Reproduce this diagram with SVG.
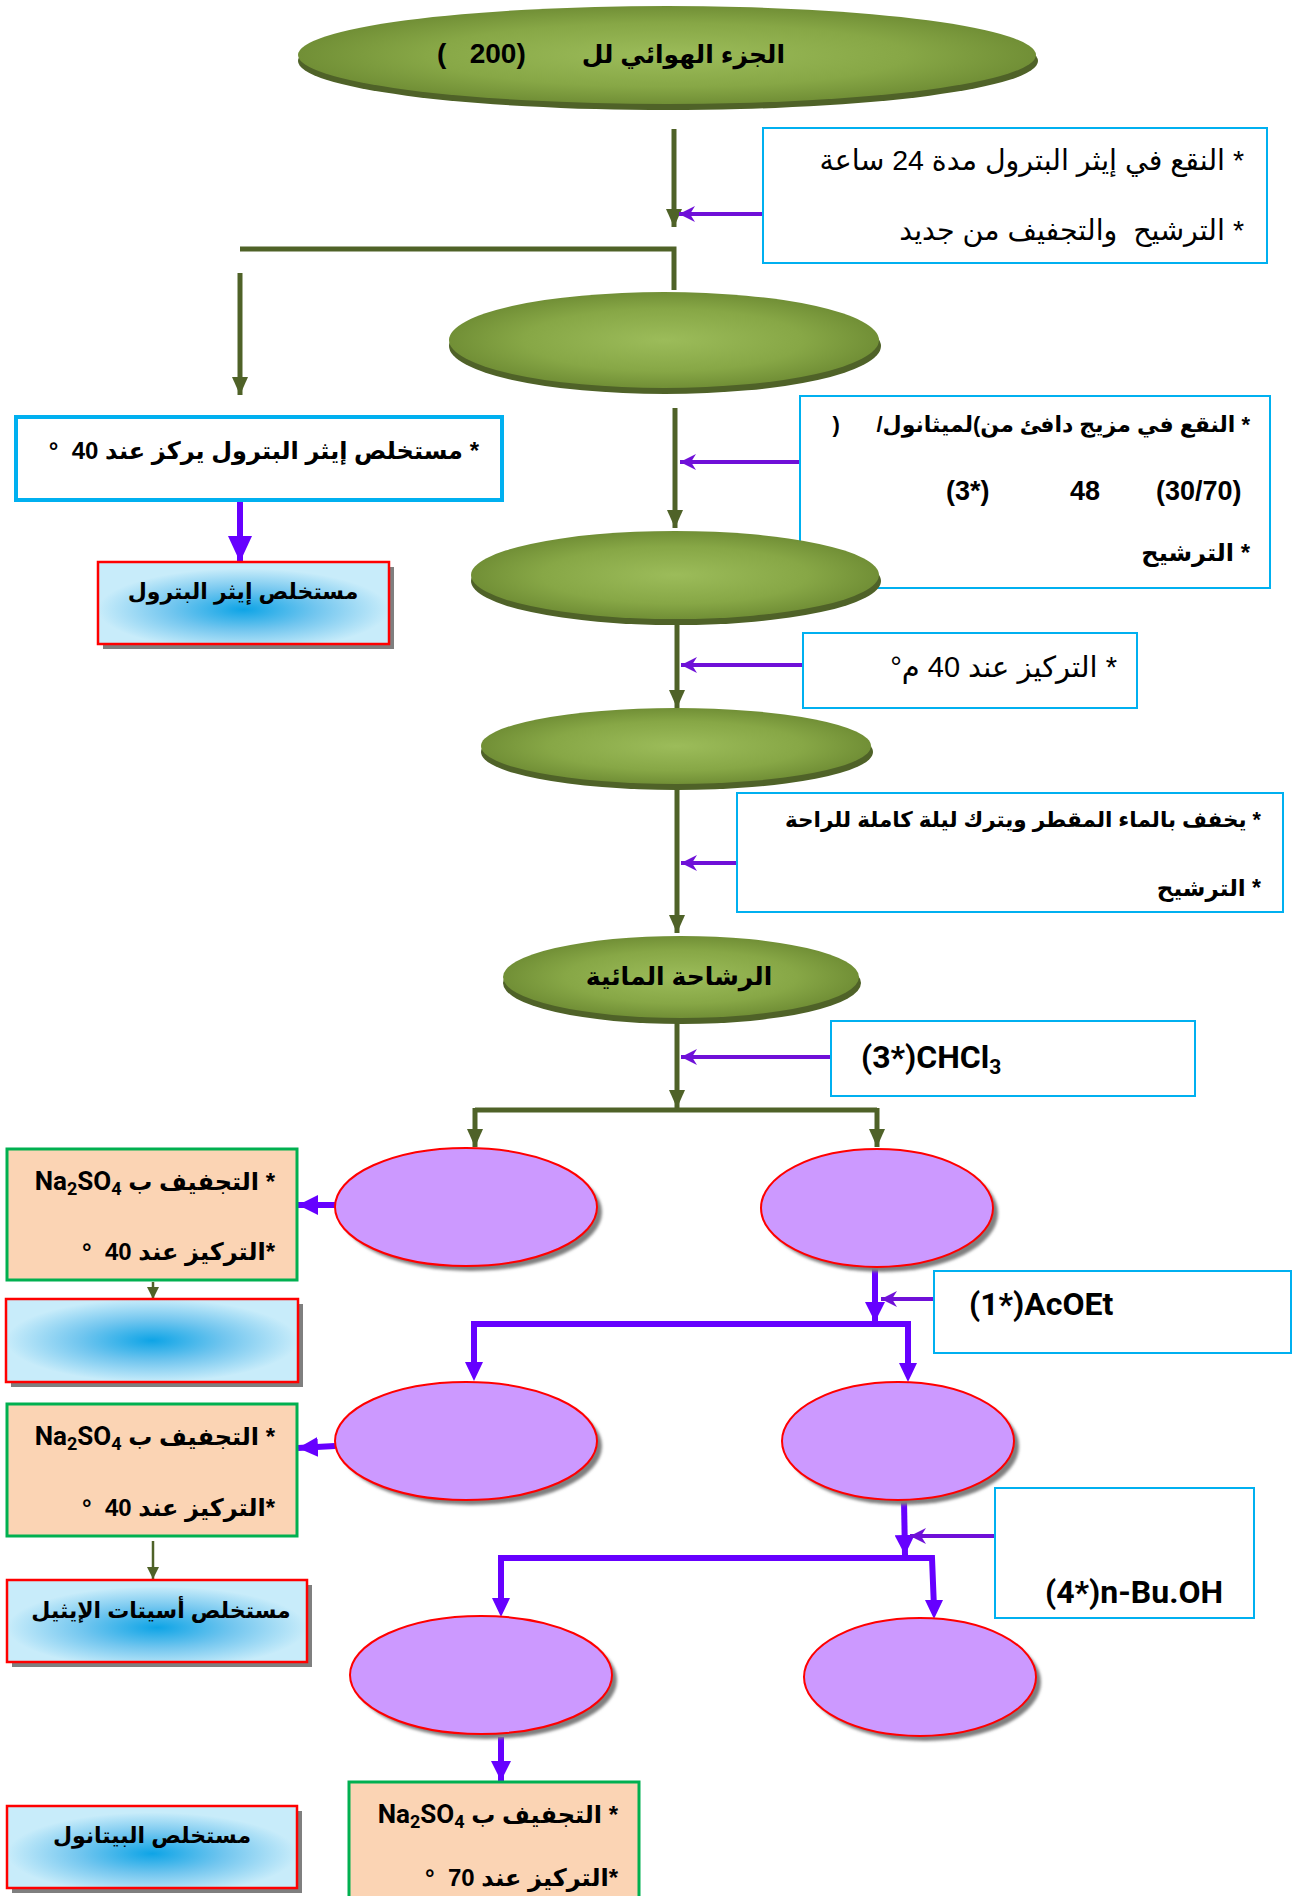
<svg xmlns="http://www.w3.org/2000/svg" width="1292" height="1896" viewBox="0 0 1292 1896">
<style>
.ar{font-family:"Liberation Sans","DejaVu Sans",sans-serif;direction:rtl;fill:#000}
.b{font-weight:bold}
.lat{font-family:Roboto,"Liberation Sans",sans-serif;font-weight:bold;fill:#000}
.num{font-family:"Liberation Sans",sans-serif;font-weight:bold;fill:#000}
.cy{fill:#fff;stroke:#00b0f0;stroke-width:2}
.pe{fill:#fbd4b4;stroke:#00b050;stroke-width:3}
.bl{stroke:#ff0000;stroke-width:2.5}
.sh{fill:#7f7f7f}
.pu{fill:#cc99ff;stroke:#ff0000;stroke-width:2}
.gl{stroke:#4f6228;stroke-width:5;fill:none}
.gt{stroke:#4f6228;stroke-width:2.5;fill:none}
.pt{stroke:#6f10d8;stroke-width:4;fill:none}
.pk{stroke:#6600ff;stroke-width:6;fill:none}
</style>
<defs>
<radialGradient id="gg" cx="50%" cy="50%" r="50%">
<stop offset="0" stop-color="#9cbc5a"/>
<stop offset="0.65" stop-color="#87a746"/>
<stop offset="1" stop-color="#718f36"/>
</radialGradient>
<radialGradient id="bg" cx="50%" cy="58%" r="50%">
<stop offset="0" stop-color="#0ea4e6"/>
<stop offset="0.5" stop-color="#72c6ef"/>
<stop offset="1" stop-color="#c8ecfa"/>
</radialGradient>
<radialGradient id="bg2" cx="50%" cy="50%" r="50%">
<stop offset="0" stop-color="#0ea4e6"/>
<stop offset="0.5" stop-color="#72c6ef"/>
<stop offset="1" stop-color="#c8ecfa"/>
</radialGradient>
<filter id="blur" x="-10%" y="-10%" width="120%" height="120%"><feGaussianBlur stdDeviation="1.5"/></filter>
<marker id="ga" markerUnits="userSpaceOnUse" markerWidth="18" markerHeight="16" refX="18" refY="8" orient="auto"><path d="M0,0 L18,8 L0,16 z" fill="#4f6228"/></marker>
<marker id="gs" markerUnits="userSpaceOnUse" markerWidth="12" markerHeight="12" refX="12" refY="6" orient="auto"><path d="M0,0 L12,6 L0,12 z" fill="#4f6228"/></marker>
<marker id="pa" markerUnits="userSpaceOnUse" markerWidth="16" markerHeight="16" refX="16" refY="8" orient="auto"><path d="M0,0 L16,8 L0,16 L5,8 z" fill="#6f10d8"/></marker>
<marker id="pk" markerUnits="userSpaceOnUse" markerWidth="20" markerHeight="20" refX="20" refY="10" orient="auto"><path d="M0,0 L20,10 L0,20 z" fill="#6600ff"/></marker>
<marker id="pk2" markerUnits="userSpaceOnUse" markerWidth="26" markerHeight="24" refX="26" refY="12" orient="auto"><path d="M0,0 L26,12 L0,24 z" fill="#6600ff"/></marker>
</defs>
<rect width="1292" height="1896" fill="#fff"/>

<g id="connectors">
<line class="gl" x1="674" y1="129" x2="674" y2="227" marker-end="url(#ga)"/>
<line class="pt" x1="763" y1="214" x2="679" y2="214" marker-end="url(#pa)"/>
<polyline class="gl" points="240,249 674,249 674,290"/>
<line class="gl" x1="240" y1="273" x2="240" y2="395" marker-end="url(#ga)"/>
<line class="pk" x1="240" y1="501" x2="240" y2="562" marker-end="url(#pk2)"/>
<line class="gl" x1="675" y1="408" x2="675" y2="528" marker-end="url(#ga)"/>
<line class="pt" x1="800" y1="462" x2="680" y2="462" marker-end="url(#pa)"/>
<line class="gl" x1="677" y1="624" x2="677" y2="708" marker-end="url(#ga)"/>
<line class="pt" x1="803" y1="665" x2="681" y2="665" marker-end="url(#pa)"/>
<line class="gl" x1="677" y1="790" x2="677" y2="933" marker-end="url(#ga)"/>
<line class="pt" x1="737" y1="863" x2="681" y2="863" marker-end="url(#pa)"/>
<line class="gl" x1="677" y1="1023" x2="677" y2="1108" marker-end="url(#ga)"/>
<line class="pt" x1="831" y1="1057" x2="681" y2="1057" marker-end="url(#pa)"/>
<polyline class="gl" points="475,1110 877,1110"/>
<line class="gl" x1="475" y1="1108" x2="475" y2="1147" marker-end="url(#ga)"/>
<line class="gl" x1="877" y1="1108" x2="877" y2="1147" marker-end="url(#ga)"/>
<line class="pk" x1="335" y1="1205" x2="298" y2="1205" marker-end="url(#pk)"/>
<line class="gt" x1="153" y1="1282" x2="153" y2="1299" marker-end="url(#gs)"/>
<line class="pk" x1="875" y1="1266" x2="875" y2="1322" marker-end="url(#pk)"/>
<line class="pt" x1="934" y1="1299" x2="881" y2="1299" marker-end="url(#pa)"/>
<polyline class="pk" points="474,1370 474,1324 908,1324 908,1372"/>
<path d="M465,1362 L483,1362 L474,1381 z M899,1363 L917,1363 L908,1382 z" fill="#6600ff"/>
<line class="pk" x1="335" y1="1446" x2="298" y2="1448" marker-end="url(#pk)"/>
<line class="gt" x1="153" y1="1541" x2="153" y2="1579" marker-end="url(#gs)"/>
<line class="pk" x1="904" y1="1500" x2="905" y2="1555" marker-end="url(#pk)"/>
<line class="pt" x1="995" y1="1536" x2="910" y2="1536" marker-end="url(#pa)"/>
<polyline class="pk" points="501,1606 501,1558 932,1558 934,1608"/>
<path d="M492,1598 L510,1598 L501,1617 z M925,1600 L943,1600 L934,1619 z" fill="#6600ff"/>
<line class="pk" x1="501" y1="1737" x2="501" y2="1781" marker-end="url(#pk)"/>
</g>

<g id="n-top">
<ellipse cx="668" cy="61" rx="370" ry="49" fill="#4f6228"/>
<ellipse cx="667" cy="55" rx="369" ry="49" fill="url(#gg)"/>
<text class="ar b" x="785" y="63" font-size="25" text-anchor="start">الجزء الهوائي لل</text>
<text class="num" x="437" y="63" font-size="28" xml:space="preserve">(   200)</text>
</g>

<g id="n-b1">
<rect class="cy" x="763" y="128" width="504" height="135"/>
<text class="ar" x="1244" y="170" font-size="28.5" text-anchor="start">* النقع في إيثر البترول مدة 24 ساعة</text>
<text class="ar" x="1244" y="240" font-size="28.5" text-anchor="start" xml:space="preserve">* الترشيح  والتجفيف من جديد</text>
</g>

<g id="n-e2">
<ellipse cx="665" cy="346" rx="216" ry="48" fill="#4f6228"/>
<ellipse cx="664" cy="340" rx="215" ry="48" fill="url(#gg)"/>
</g>

<g id="n-b2">
<rect x="16" y="417" width="486" height="83" fill="#fff" stroke="#00b0f0" stroke-width="4"/>
<text class="ar b" x="479" y="459" font-size="24" text-anchor="start" xml:space="preserve">* مستخلص إيثر البترول يركز عند 40  °</text>
</g>

<g id="n-b3">
<rect class="sh" x="103" y="567" width="291" height="82"/>
<rect class="bl" x="98" y="562" width="291" height="82" fill="url(#bg)"/>
<text class="ar b" x="243" y="599" font-size="22" text-anchor="middle">مستخلص إيثر البترول</text>
</g>

<g id="n-b4">
<rect class="cy" x="800" y="396" width="470" height="192"/>
<text class="ar b" x="1250" y="432" font-size="22" text-anchor="start" xml:space="preserve">* النقع في مزيج دافئ من&#x2066;(&#x2069;لميثانول/      &#x2066;)&#x2069;</text>
<text class="num" y="500" font-size="27"><tspan x="1156">(30/70)</tspan><tspan x="1070">48</tspan><tspan x="946">(3*)</tspan></text>
<text class="ar b" x="1250" y="561" font-size="24" text-anchor="start">* الترشيح</text>
</g>

<g id="n-e3">
<ellipse cx="676" cy="581" rx="205" ry="44" fill="#4f6228"/>
<ellipse cx="675" cy="575" rx="204" ry="44" fill="url(#gg)"/>
</g>

<g id="n-b5">
<rect class="cy" x="803" y="633" width="334" height="75"/>
<text class="ar" x="1117" y="677" font-size="29" text-anchor="start">* التركيز عند 40 م°</text>
</g>

<g id="n-e4">
<ellipse cx="677" cy="752" rx="196" ry="38" fill="#4f6228"/>
<ellipse cx="676" cy="746" rx="195" ry="38" fill="url(#gg)"/>
</g>

<g id="n-b6">
<rect class="cy" x="737" y="793" width="546" height="119"/>
<text class="ar b" x="1261" y="827" font-size="21.5" text-anchor="start">* يخفف بالماء المقطر ويترك ليلة كاملة للراحة</text>
<text class="ar b" x="1261" y="896" font-size="23" text-anchor="start">* الترشيح</text>
</g>

<g id="n-e5">
<ellipse cx="682" cy="983" rx="179" ry="41" fill="#4f6228"/>
<ellipse cx="681" cy="977" rx="178" ry="41" fill="url(#gg)"/>
<text class="ar b" x="679" y="985" font-size="25" text-anchor="middle">الرشاحة المائية</text>
</g>

<g id="n-b7">
<rect class="cy" x="831" y="1021" width="364" height="75"/>
<text class="lat" x="861" y="1068" font-size="32">(3*)CHCl<tspan font-size="21" baseline-shift="-6">3</tspan></text>
</g>

<g id="n-p1">
<ellipse class="sh" cx="471" cy="1212" rx="131" ry="59" filter="url(#blur)"/>
<ellipse class="pu" cx="466" cy="1207" rx="131" ry="59"/>
</g>
<g id="n-p2">
<ellipse class="sh" cx="882" cy="1213" rx="116" ry="59" filter="url(#blur)"/>
<ellipse class="pu" cx="877" cy="1208" rx="116" ry="59"/>
</g>

<g id="n-g1">
<rect class="pe" x="7" y="1149" width="290" height="131"/>
<text class="ar b" x="275" y="1190" font-size="24" text-anchor="start">* التجفيف ب <tspan class="lat" font-size="26">Na<tspan font-size="18" baseline-shift="-5">2</tspan>SO<tspan font-size="18" baseline-shift="-5">4</tspan></tspan></text>
<text class="ar b" x="275" y="1260" font-size="24" text-anchor="start" xml:space="preserve">*التركيز عند 40  °</text>
</g>

<g id="n-b8">
<rect class="sh" x="11" y="1304" width="292" height="83"/>
<rect class="bl" x="6" y="1299" width="292" height="83" fill="url(#bg2)"/>
</g>

<g id="n-b9">
<rect class="cy" x="934" y="1271" width="357" height="82"/>
<text class="lat" x="969" y="1315" font-size="32">(1*)AcOEt</text>
</g>

<g id="n-p3">
<ellipse class="sh" cx="471" cy="1446" rx="131" ry="59" filter="url(#blur)"/>
<ellipse class="pu" cx="466" cy="1441" rx="131" ry="59"/>
</g>
<g id="n-p4">
<ellipse class="sh" cx="903" cy="1446" rx="116" ry="59" filter="url(#blur)"/>
<ellipse class="pu" cx="898" cy="1441" rx="116" ry="59"/>
</g>

<g id="n-g2">
<rect class="pe" x="7" y="1404" width="290" height="132"/>
<text class="ar b" x="275" y="1445" font-size="24" text-anchor="start">* التجفيف ب <tspan class="lat" font-size="26">Na<tspan font-size="18" baseline-shift="-5">2</tspan>SO<tspan font-size="18" baseline-shift="-5">4</tspan></tspan></text>
<text class="ar b" x="275" y="1516" font-size="24" text-anchor="start" xml:space="preserve">*التركيز عند 40  °</text>
</g>

<g id="n-b10">
<rect class="sh" x="12" y="1585" width="300" height="82"/>
<rect class="bl" x="7" y="1580" width="300" height="82" fill="url(#bg)"/>
<text class="ar b" x="161" y="1618" font-size="22" text-anchor="middle">مستخلص أسيتات الإيثيل</text>
</g>

<g id="n-b11">
<rect class="cy" x="995" y="1488" width="259" height="130"/>
<text class="lat" x="1045" y="1603" font-size="32">(4*)n-Bu.OH</text>
</g>

<g id="n-p5">
<ellipse class="sh" cx="486" cy="1680" rx="131" ry="59" filter="url(#blur)"/>
<ellipse class="pu" cx="481" cy="1675" rx="131" ry="59"/>
</g>
<g id="n-p6">
<ellipse class="sh" cx="925" cy="1682" rx="116" ry="59" filter="url(#blur)"/>
<ellipse class="pu" cx="920" cy="1677" rx="116" ry="59"/>
</g>

<g id="n-g3">
<rect class="pe" x="349" y="1782" width="290" height="130"/>
<text class="ar b" x="618" y="1823" font-size="24" text-anchor="start">* التجفيف ب <tspan class="lat" font-size="26">Na<tspan font-size="18" baseline-shift="-5">2</tspan>SO<tspan font-size="18" baseline-shift="-5">4</tspan></tspan></text>
<text class="ar b" x="618" y="1886" font-size="24" text-anchor="start" xml:space="preserve">*التركيز عند 70  °</text>
</g>

<g id="n-b12">
<rect class="sh" x="12" y="1811" width="290" height="82"/>
<rect class="bl" x="7" y="1806" width="290" height="82" fill="url(#bg)"/>
<text class="ar b" x="152" y="1843" font-size="22" text-anchor="middle">مستخلص البيتانول</text>
</g>
</svg>
